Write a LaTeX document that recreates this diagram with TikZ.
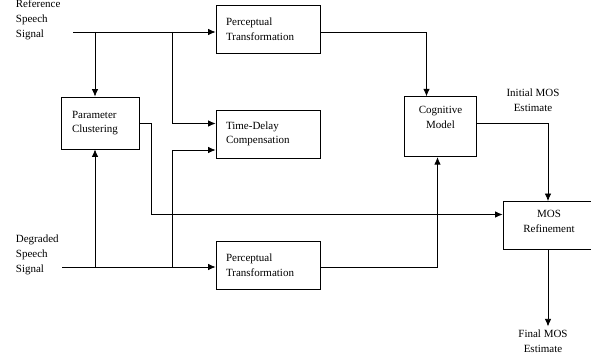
\documentclass[tikz,border=0pt]{standalone}
\usepackage{fontspec}
\setmainfont{Liberation Serif}
\usetikzlibrary{positioning,arrows.meta}
\tikzstyle{block} = [draw, rectangle, line width=0.8pt, inner ysep=0pt, font=\fontsize{11}{14.5}\selectfont]
\tikzstyle{lblock} = [block, align=left, inner xsep=10pt, text width=84pt, minimum height=48pt]
\tikzstyle{cblock} = [block, align=center]
\tikzstyle{data} = [inner sep=0pt, font=\fontsize{11}{15}\selectfont]
\tikzstyle{flow} = [-{Latex[length=7.5pt,width=6.5pt]}, line width=0.8pt]

\begin{document}
\begin{tikzpicture}[x=1pt, y=-1pt]
	\useasboundingbox (0,0) rectangle (591,355);
	% inputs
	\node (ref) [data, align=left, anchor=west] at (15.7,20) {Reference\\Speech\\Signal};
	\node (deg) [data, align=left, anchor=west] at (15.7,255) {Degraded\\Speech\\Signal};
	% blocks (the empty last line lifts the text a little)
	\node (pt1) [lblock] at (268,29) {Perceptual\\Transformation\\[-5.5pt]{}};
	\node (td)  [lblock] at (268,134) {Time-Delay\\Compensation\\[-5.5pt]{}};
	\node (pt2) [lblock] at (268,265) {Perceptual\\Transformation\\[-5.5pt]{}};
	\node (pc)  [block, align=left, inner xsep=11pt, text width=56pt, minimum height=52pt] at (100,123) {Parameter\\Clustering\\[-3.5pt]{}};
	\node (cm)  [cblock, minimum width=72pt, minimum height=60pt] at (440.5,126.7) {Cognitive\\Model\\[4.5pt]{}};
	\node (mos) [cblock, minimum width=92pt, minimum height=48pt] at (549,225.5) {MOS\\Refinement\\[-6.5pt]{}};
	% outputs
	\node (init)  [data, align=center] at (533,100) {Initial MOS\\Estimate};
	\node (final) [data, align=center] at (543,341) {Final MOS\\Estimate};
	% junctions
	\coordinate (refin) at (73,32);
	\coordinate (degin) at (62,267);
	\coordinate (rb1) at (95,32);
	\coordinate (rb2) at (172,32);
	\coordinate (db1) at (95,267);
	\coordinate (db2) at (172,267);
	% connectors
	\draw [flow] (refin) -- (refin -| pt1.west);
	\draw [flow] (degin) -- (degin -| pt2.west);
	\draw [flow] (rb1) -- (rb1 |- pc.north);
	\draw [flow] (db1) -- (db1 |- pc.south);
	\draw [flow] (rb2) |- ([yshift=10.5pt]td.west);
	\draw [flow] (db2) |- ([yshift=-16pt]td.west);
	\draw [flow] (pc.east) -- ++(11.5,0) |- ([yshift=11pt]mos.west);
	\draw [flow] (pt1.east |- rb1) -| ([xshift=-14pt]cm.north);
	\draw [flow] (pt2.east |- db1) -| ([xshift=-3pt]cm.south);
	\draw [flow] ([yshift=3pt]cm.east) -| ([xshift=-1pt]mos.north);
	\draw [flow, shorten >=3pt] ([xshift=-1pt]mos.south) -- ([xshift=5pt]final.north);
\end{tikzpicture}
\end{document}
